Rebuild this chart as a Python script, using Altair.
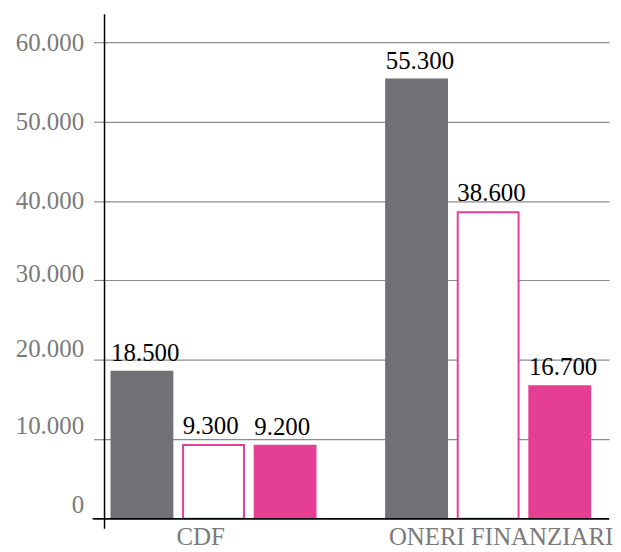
import altair as alt
import pandas as pd

# ---- data ----
categories = ["CDF", "ONERI FINANZIARI"]
series = ["Serie 1", "Serie 2", "Serie 3"]
values_cdf = [18500, 9300, 9200]
values_oneri = [55300, 38600, 16700]
y_ticks = [0, 10000, 20000, 30000, 40000, 50000, 60000]

rows = []
for cat, vals in zip(categories, [values_cdf, values_oneri]):
    for s, v in zip(series, vals):
        rows.append({"categoria": cat, "serie": s, "valore": v})
df = pd.DataFrame(rows)

W, H = 507, 507
FONT = "Liberation Serif"
GRAY_TXT = "#7a7a7a"
GRID = "#8c8c8c"
BAR_GRAY = "#717075"
PINK = "#E43F93"

base = alt.Chart(df)

x_enc = alt.X(
    "categoria:N",
    sort=categories,
    scale=alt.Scale(paddingInner=0.257, paddingOuter=0.047, align=0.27),
    axis=alt.Axis(
        title=None, labelAngle=0, ticks=False, domain=False, grid=False,
        labelFont=FONT, labelFontSize=25, labelColor=GRAY_TXT, labelPadding=6,
        labelLimit=0,
        labelOffset={"condition": {"test": "datum.value == 'CDF'", "value": -13}, "value": 13},
    ),
)
xo_enc = alt.XOffset("serie:N", sort=series, scale=alt.Scale(paddingInner=0.15, paddingOuter=0))
y_enc = alt.Y(
    "valore:Q",
    scale=alt.Scale(domain=[0, 63500], nice=False, zero=True),
    axis=alt.Axis(
        title=None, values=y_ticks,
        labelExpr="replace(format(datum.value, ',d'), ',', '.')",
        labelFont=FONT, labelFontSize=25, labelColor=GRAY_TXT, labelPadding=10,
        labelOffset={"condition": [
            {"test": "datum.value <= 10000", "value": -14},
            {"test": "datum.value <= 20000", "value": -11},
            {"test": "datum.value <= 30000", "value": -7},
        ], "value": 0},
        tickSize=11, tickColor=GRID, tickWidth=1.2,
        grid=True, gridColor=GRID, gridWidth=1.2, domain=False,
    ),
)

bars = base.mark_bar(strokeWidth=2).encode(
    x=x_enc,
    xOffset=xo_enc,
    y=y_enc,
    fill=alt.Fill("serie:N", sort=series,
                  scale=alt.Scale(domain=series, range=[BAR_GRAY, "white", PINK]), legend=None),
    stroke=alt.Stroke("serie:N", sort=series,
                      scale=alt.Scale(domain=series, range=[BAR_GRAY, PINK, PINK]), legend=None),
)

labels = base.transform_calculate(
    label="replace(format(datum.valore, ',d'), ',', '.')"
).mark_text(
    align="left", baseline="alphabetic", dx=-31, dy=-11,
    font=FONT, fontSize=25, color="black",
).encode(
    x=alt.X("categoria:N", sort=categories),
    xOffset=alt.XOffset("serie:N", sort=series),
    y=alt.Y("valore:Q"),
    text="label:N",
)

one = alt.Chart(pd.DataFrame({"z": [0]}))
baseline = one.mark_rule(color="black", strokeWidth=1.5).encode(
    y=alt.datum(0), x=alt.value(-12), x2=alt.value(W)
)
vaxis = one.mark_rule(color="black", strokeWidth=1.5).encode(
    x=alt.value(0), y=alt.value(0), y2=alt.value(H + 10)
)

chart = alt.layer(bars, labels, baseline, vaxis).properties(
    width=W, height=H,
    padding={"left": 7, "top": 4, "right": 0, "bottom": 0},
).configure_view(stroke=None)

chart.save("out.html", embed_options={"renderer": "svg", "actions": False})
